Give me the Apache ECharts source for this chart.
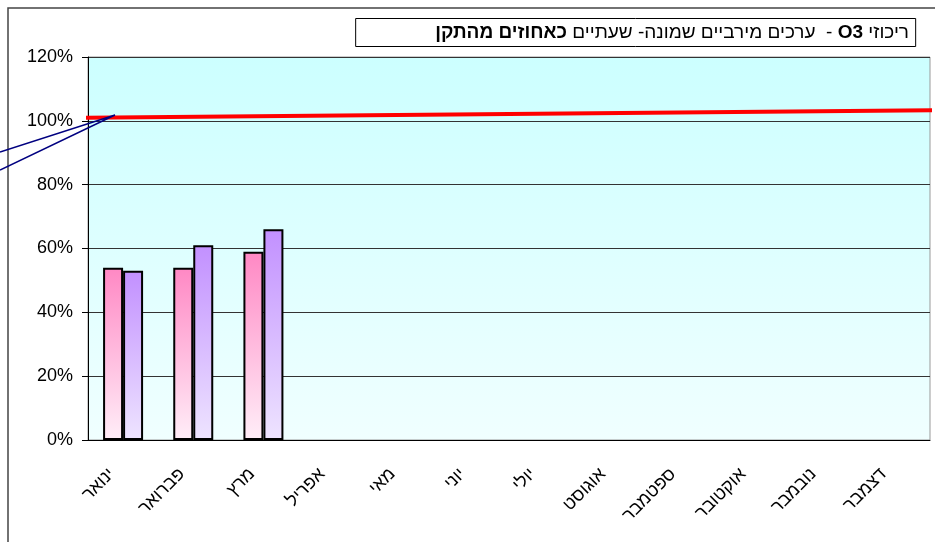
<!DOCTYPE html>
<html>
<head>
<meta charset="utf-8">
<script src="https://cdn.jsdelivr.net/npm/echarts@6/dist/echarts.min.js"></script>
<style>
  html, body { margin: 0; padding: 0; background: #fff; }
  #chart { width: 935px; height: 542px; }
</style>
</head>
<body>
<div id="chart"></div>
<script>
// months (category axis)
const months = ['ינואר', 'פברואר', 'מרץ', 'אפריל', 'מאי', 'יוני', 'יולי', 'אוגוסט', 'ספטמבר', 'אוקטובר', 'נובמבר', 'דצמבר']
// two measuring series, % of standard
const seriesPink = [54, 54, 59, null, null, null, null, null, null, null, null, null]
const seriesPurple = [53, 61, 66, null, null, null, null, null, null, null, null, null]
// standard line (x in month units on a hidden value axis, y in %)
const standardLine = [[-0.04, 101], [12.1, 103.3]]
const yTicks = { min: 0, max: 120, interval: 20 }

const FONT = "'Liberation Sans', Arial, sans-serif"

const chart = echarts.init(document.getElementById('chart'))

const grad = (top, bottom) => new echarts.graphic.LinearGradient(0, 0, 0, 1, [
  { offset: 0, color: top },
  { offset: 1, color: bottom },
])

chart.setOption({
  animation: false,
  title: {
    text: '{b|כאחוזים מהתקן}{n| ערכים מירביים שמונה- שעתיים  - }{b|O3}{n| ריכוזי}',
    right: 19,
    top: 18,
    padding: [5, 7, 5, 80],
    borderColor: '#000',
    borderWidth: 1,
    backgroundColor: '#fff',
    textStyle: {
      rich: {
        b: { fontFamily: FONT, fontSize: 19, fontWeight: 'bold', color: '#000' },
        n: { fontFamily: FONT, fontSize: 19, fontWeight: 'normal', color: '#000' },
      },
    },
  },
  grid: {
    left: 88,
    right: 5,
    top: 57,
    bottom: 102,
    show: true,
    backgroundColor: grad('#ccffff', '#f0ffff'),
    borderColor: '#999',
    borderWidth: 1,
  },
  xAxis: [
    {
      type: 'category',
      data: months,
      axisLine: { lineStyle: { color: '#000', width: 1 } },
      axisTick: { length: 5, lineStyle: { color: '#000' } },
      axisLabel: {
        rotate: 45,
        interval: 0,
        margin: 20,
        padding: [0, 16, 0, 0],
        color: '#000',
        fontFamily: FONT,
        fontSize: 18,
      },
    },
    {
      type: 'value',
      min: 0,
      max: 12,
      show: false,
    },
  ],
  yAxis: {
    type: 'value',
    min: yTicks.min,
    max: yTicks.max,
    interval: yTicks.interval,
    axisLine: { show: true, lineStyle: { color: '#000' } },
    axisTick: { show: true, length: 6, lineStyle: { color: '#000' } },
    axisLabel: {
      formatter: '{value}%',
      margin: 15,
      color: '#000',
      fontFamily: FONT,
      fontSize: 18,
    },
    splitLine: { lineStyle: { color: '#333', width: 1 } },
  },
  series: [
    {
      type: 'bar',
      data: seriesPink,
      barGap: '0%',
      barCategoryGap: '43%',
      itemStyle: {
        color: grad('#ff88c4', '#ffeef8'),
        borderColor: '#000',
        borderWidth: 2,
      },
    },
    {
      type: 'bar',
      data: seriesPurple,
      itemStyle: {
        color: grad('#c290ff', '#eee4ff'),
        borderColor: '#000',
        borderWidth: 2,
      },
    },
    {
      type: 'line',
      xAxisIndex: 1,
      data: standardLine,
      clip: false,
      symbol: 'none',
      z: 5,
      lineStyle: { color: '#ff0000', width: 4 },
    },
  ],
  graphic: [
    {
      type: 'rect',
      silent: true,
      z: -1,
      shape: { x: 8, y: 8, width: 1000, height: 1000 },
      style: { fill: 'none', stroke: '#444', lineWidth: 1.5 },
    },
    {
      type: 'polyline',
      silent: true,
      z: 10,
      shape: { points: [[0, 152], [115, 115], [0, 170]] },
      style: { fill: 'none', stroke: '#000080', lineWidth: 1.5 },
    },
  ],
})
</script>
</body>
</html>
